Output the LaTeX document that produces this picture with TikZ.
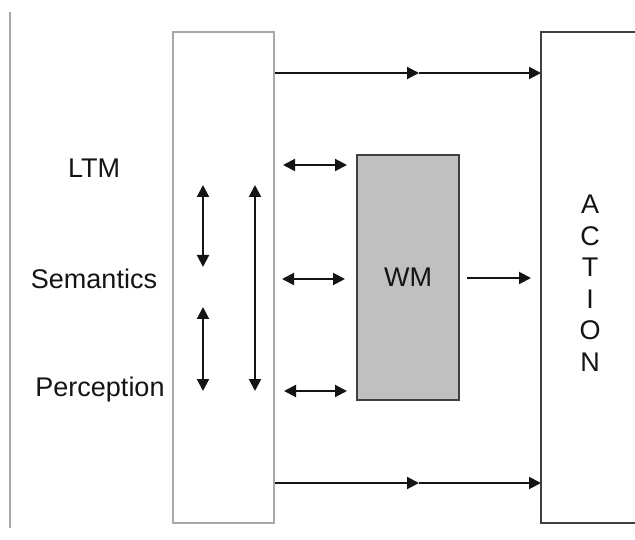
\documentclass[tikz,border=0pt]{standalone}
\usepackage{fontspec}
\setmainfont{Liberation Sans}
\usetikzlibrary{arrows.meta}
\definecolor{lightedge}{HTML}{A8A8A8}
\definecolor{darkedge}{HTML}{404040}
\definecolor{wmfill}{HTML}{C0C0C0}
\definecolor{arrowcol}{HTML}{141414}
\begin{document}
\begin{tikzpicture}[x=1pt,y=-1pt,
  label/.style={font=\fontsize{27}{31}\selectfont, inner sep=0pt, text=black!92},
  conn/.style={draw=arrowcol, line width=2pt, -{Triangle[length=12pt,width=12pt]}},
  biconn/.style={draw=arrowcol, line width=2pt, {Triangle[length=12pt,width=12pt]}-{Triangle[length=12pt,width=12pt]}},
  panel/.style={draw, line width=1.5pt, fill=white, inner sep=0pt},
  edge3/.style={draw=darkedge, line width=1.5pt}]
\useasboundingbox (0,0) rectangle (635,540);
\fill[white] (0,0) rectangle (635,540);
% left margin rule
\coordinate (rt) at (10,12);
\coordinate (rb) at (10,528);
\draw[lightedge, line width=1.2pt] (rt) -- (rb);
% boxes
\node[panel, draw=lightedge, minimum width=101pt, minimum height=491pt] (ltm) at (223.5,277.5) {};
\node[inner sep=0pt, minimum width=94pt, minimum height=491pt, anchor=west] (act) at (541,277.5) {};
\draw[edge3] (act.north east) -- (act.north west) -- (act.south west) -- (act.south east);
\node[panel, draw=darkedge, fill=wmfill, minimum width=102pt, minimum height=245pt] (wm) at (408,277.5) {};
\node[label] (wmt) at (wm.center) {WM};
% labels
\node[label] (l1) at (94,168) {LTM};
\node[label] (l2) at (94,279) {Semantics};
\node[label] (l3) at (100,390) {Perception};
\node[label, align=center, font=\fontsize{27}{31.5}\selectfont] (acttxt) at (590,283) {A\\C\\T\\I\\O\\N};
% top and bottom flows with mid arrowheads
\coordinate (tm) at (419,73);
\coordinate (bm) at (419,483);
\draw[conn] (ltm.east |- tm) -- (tm);
\draw[conn] (tm) -- (act.west |- tm);
\draw[conn] (ltm.east |- bm) -- (bm);
\draw[conn] (bm) -- (act.west |- bm);
% horizontal double arrows
\coordinate (h1a) at (283,165); \coordinate (h1b) at (347,165);
\coordinate (h2a) at (282,279); \coordinate (h2b) at (345,279);
\coordinate (h3a) at (284,391); \coordinate (h3b) at (347,391);
\draw[biconn] (h1a) -- (h1b);
\draw[biconn] (h2a) -- (h2b);
\draw[biconn] (h3a) -- (h3b);
% vertical double arrows
\coordinate (v1a) at (203,185); \coordinate (v1b) at (203,267);
\coordinate (v2a) at (203,307); \coordinate (v2b) at (203,391);
\coordinate (v3a) at (255,185); \coordinate (v3b) at (255,391);
\draw[biconn] (v1a) -- (v1b);
\draw[biconn] (v2a) -- (v2b);
\draw[biconn] (v3a) -- (v3b);
% WM to action
\coordinate (wa) at (467,278); \coordinate (wb) at (531,278);
\draw[conn] (wa) -- (wb);
\end{tikzpicture}
\end{document}
